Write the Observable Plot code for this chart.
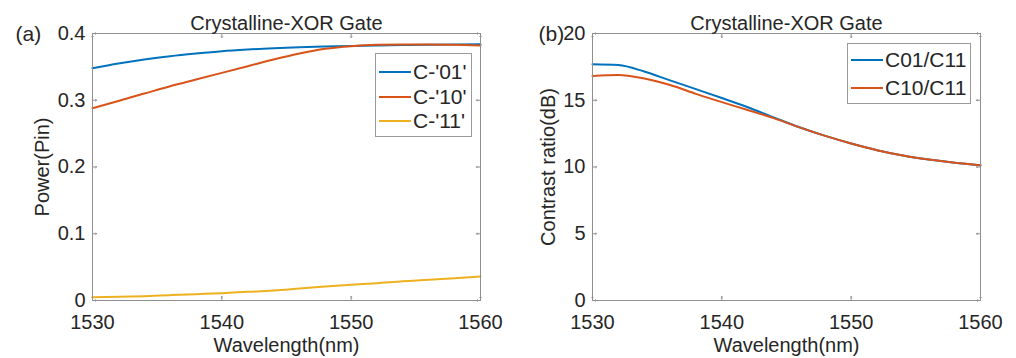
<!DOCTYPE html>
<html><head><meta charset="utf-8">
<script src="https://cdn.jsdelivr.net/npm/d3@7"></script>
<script src="https://cdn.jsdelivr.net/npm/@observablehq/plot@0.6"></script>
<style>
body{margin:0;background:#fff;}
#wrap{position:relative;width:1016px;height:358px;font-family:"Liberation Sans",Arial,sans-serif;color:#262626;overflow:hidden;}
.pnl{position:absolute;top:0;}
.leg{position:absolute;background:#fff;border:1px solid #9a9a9a;box-sizing:border-box;font-size:21px;}
.row{position:absolute;left:0;height:0;}
.row .ln{position:absolute;left:3px;width:32px;height:2px;top:-1px;}
.row .tx{position:absolute;left:37px;top:-12px;line-height:24px;white-space:nowrap;}
</style></head><body>
<div id="wrap">
  <div id="a" class="pnl" style="left:0"></div>
  <div id="b" class="pnl" style="left:508px"></div>
</div>
<script>
const wavelength = [1530,1532,1534,1536,1538,1540,1542,1544,1546,1548,1550,1552,1554,1556,1558,1560];
const powerC01 = [0.348,0.355,0.361,0.366,0.370,0.3735,0.376,0.378,0.3795,0.3805,0.3813,0.382,0.3826,0.3831,0.3835,0.3838];
const powerC10 = [0.288,0.299,0.310,0.321,0.331,0.341,0.351,0.361,0.370,0.377,0.381,0.383,0.3835,0.3835,0.383,0.382];
const powerC11 = [0.005,0.0055,0.0065,0.008,0.0095,0.011,0.013,0.015,0.018,0.021,0.0237,0.026,0.029,0.031,0.0335,0.036];
const crC01 = [17.70,17.64,17.15,16.49,15.83,15.17,14.48,13.72,12.98,12.33,11.76,11.26,10.86,10.56,10.32,10.13];
const crC10 = [16.82,16.90,16.63,16.14,15.48,14.86,14.27,13.66,12.97,12.33,11.76,11.26,10.86,10.56,10.32,10.13];
const seriesA = ["C-'01'","C-'10'","C-'11'"];
const seriesB = ["C01/C11","C10/C11"];
const colors = ["#0072BD","#D95319","#EDB120"];
const xTicks = [1530,1540,1550,1560];
const yTicksA = [0,0.1,0.2,0.3,0.4];
const yTicksB = [0,5,10,15,20];
const titleText = "Crystalline-XOR Gate";
const xLabel = "Wavelength(nm)";

const FONT = '"Liberation Sans", Arial, sans-serif';
const INK = "#262626";
const BOX = "#8f8f8f";

function tidy(valuesList, names) {
  const rows = [];
  valuesList.forEach((vals, s) => vals.forEach((v, i) => rows.push({x: wavelength[i], y: v, s: names[s]})));
  return rows;
}

function panel({rows, names, yDomain, yTicks, yFormat, yLabel, tag, marginLeft, marginRight, yLabelOffset, tagDx}) {
  const inTick = (data, ch, anchor, rot) => Plot.vector(data, {
    [ch]: d => d, frameAnchor: anchor, length: 4, rotate: rot, anchor: "start", stroke: BOX, strokeWidth: 1
  });
  return Plot.plot({
    width: 508, height: 358,
    marginTop: 33, marginBottom: 58, marginLeft, marginRight,
    style: {fontFamily: FONT, color: INK, background: "white", overflow: "visible"},
    x: {domain: [1530, 1560]},
    y: {domain: yDomain},
    color: {domain: names, range: colors},
    marks: [
      Plot.axisX(xTicks, {tickSize: 0, tickPadding: 14, fontSize: 20, tickFormat: d => String(d),
        label: xLabel, labelAnchor: "center", labelOffset: 51, labelArrow: "none"}),
      Plot.axisY(yTicks, {tickSize: 0, tickPadding: 7, fontSize: 20, tickFormat: yFormat,
        label: yLabel, labelAnchor: "center", labelOffset: yLabelOffset, labelArrow: "none"}),
      inTick(xTicks, "x", "bottom", 0),
      inTick(xTicks, "x", "top", 180),
      inTick(yTicks, "y", "left", 90),
      inTick(yTicks, "y", "right", -90),
      Plot.line(rows, {x: "x", y: "y", stroke: "s", z: "s", strokeWidth: 2, curve: "monotone-x"}),
      Plot.frame({stroke: BOX, strokeWidth: 1}),
      Plot.text([titleText], {text: d => d, frameAnchor: "top", lineAnchor: "middle", dy: -10, fontSize: 20, fill: INK}),
      Plot.text([tag], {text: d => d, frameAnchor: "top-left", lineAnchor: "middle", textAnchor: "start", dx: tagDx, dy: 1, fontSize: 21, fill: INK})
    ]
  });
}

const a = panel({
  rows: tidy([powerC01, powerC10, powerC11], seriesA), names: seriesA,
  yDomain: [0, 0.4], yTicks: yTicksA, yFormat: d => d === 0 ? "0" : d3.format(".1f")(d),
  yLabel: "Power(Pin)", tag: "(a)", marginLeft: 92, marginRight: 28, yLabelOffset: 58, tagDx: -77
});
document.getElementById("a").appendChild(a);

const b = panel({
  rows: tidy([crC01, crC10], seriesB), names: seriesB,
  yDomain: [0, 20], yTicks: yTicksB, yFormat: d => String(d),
  yLabel: "Contrast ratio(dB)", tag: "(b)", marginLeft: 84, marginRight: 36, yLabelOffset: 52, tagDx: -54
});
document.getElementById("b").appendChild(b);

function legend(left, top, width, height, names, rowYs) {
  const box = document.createElement("div");
  box.className = "leg";
  Object.assign(box.style, {left: left + "px", top: top + "px", width: width + "px", height: height + "px"});
  names.forEach((n, i) => {
    const r = document.createElement("div");
    r.className = "row";
    r.style.top = rowYs[i] + "px";
    const ln = document.createElement("div"); ln.className = "ln"; ln.style.background = colors[i];
    const tx = document.createElement("div"); tx.className = "tx"; tx.textContent = n;
    r.appendChild(ln); r.appendChild(tx); box.appendChild(r);
  });
  document.getElementById("wrap").appendChild(box);
}
legend(375, 53, 97, 84, seriesA, [18, 43, 67]);
legend(847, 43, 124, 61, seriesB, [16, 44]);
</script>
</body></html>
